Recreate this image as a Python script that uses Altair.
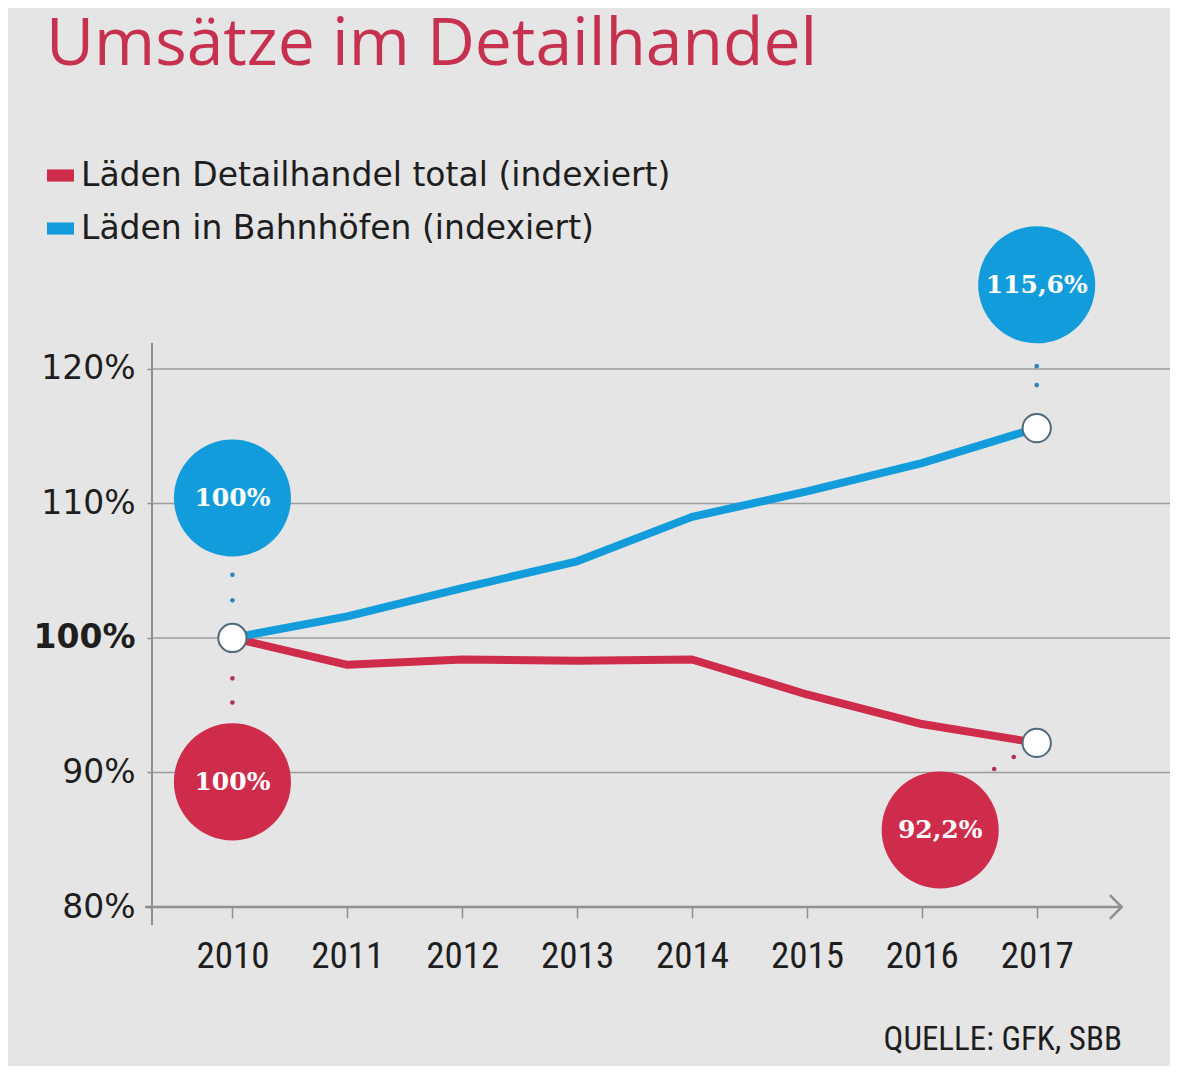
import altair as alt
import pandas as pd

# ---------------- data ----------------
title_text = "Umsätze im Detailhandel"
source_text = "QUELLE: GFK, SBB"

years = [2010, 2011, 2012, 2013, 2014, 2015, 2016, 2017]
retail_total = [100.0, 98.0, 98.4, 98.3, 98.4, 95.8, 93.6, 92.2]
station_shops = [100.0, 101.6, 103.7, 105.7, 109.0, 110.9, 113.0, 115.6]

series_names = ["Läden Detailhandel total (indexiert)", "Läden in Bahnhöfen (indexiert)"]
series_colors = ["#cf2b4b", "#139cdb"]

y_ticks = [80, 90, 100, 110, 120]
grid_values = [90, 100, 110, 120]

bubble_series = [series_names[1], series_names[0], series_names[1], series_names[0]]
bubble_x = [2010, 2010, 2017, 2016.16]
bubble_y = [110.4, 89.3, 126.25, 85.73]
bubble_labels = ["100%", "100%", "115,6%", "92,2%"]

dot_x = [2010, 2010, 2010, 2010, 2017, 2017, 2016.63, 2016.80]
dot_y = [104.7, 102.8, 97.0, 95.2, 120.2, 118.8, 90.26, 91.15]
dot_colors = ["#2f86bf", "#2f86bf", "#b03452", "#b03452",
              "#2f86bf", "#2f86bf", "#b03452", "#b03452"]

end_x = [2010, 2017, 2017]
end_y = [100.0, 115.6, 92.2]

# axis frame (in data units)
x_domain = [2009.3, 2018.16]
y_domain = [80, 122]
yaxis_line = {"x": [2009.3], "y": [78.66], "y2": [121.93]}
xaxis_line = {"x": [2009.24], "x2": [2017.74], "y": [80]}
arrow_pos = {"x": [2017.74], "y": [80]}

# ---------------- tables ----------------
df_lines = pd.DataFrame({
    "x": years * 2,
    "y": retail_total + station_shops,
    "series": [series_names[0]] * len(years) + [series_names[1]] * len(years),
})
df_grid = pd.DataFrame({"y": grid_values})
df_bub = pd.DataFrame({"x": bubble_x, "y": bubble_y, "series": bubble_series, "label": bubble_labels})
df_dots = pd.DataFrame({"x": dot_x, "y": dot_y, "c": dot_colors})
df_end = pd.DataFrame({"x": end_x, "y": end_y})

xs = alt.Scale(domain=x_domain, nice=False, zero=False)
ys = alt.Scale(domain=y_domain, nice=False, zero=False)
cs = alt.Scale(domain=series_names, range=series_colors)

GRAY = "#8f8f8f"
TXT = "#1e1e1e"
COND_FONT = "Liberation Sans Narrow, Roboto Condensed, Roboto"

y_axis = alt.Axis(
    values=y_ticks, labelExpr="datum.value + '%'", domain=False, grid=False,
    tickSize=5, tickColor=GRAY, tickWidth=1.5, labelFont="DejaVu Sans",
    labelFontSize=33, labelColor=TXT, labelPadding=12, title=None,
    labelFontWeight={"condition": {"test": "datum.value === 100", "value": "bold"}, "value": "normal"},
)
x_axis = alt.Axis(
    values=years, format="d", domain=False, grid=False, tickSize=11,
    tickColor=GRAY, tickWidth=1.5, labelFont=COND_FONT, labelFontSize=37,
    labelColor=TXT, labelPadding=20, title=None, labelOverlap=False, labelFlush=False,
)
legend = alt.Legend(
    title=None, orient="none", legendX=-108, legendY=-183, padding=0,
    symbolType="M-1,-0.45L1,-0.45L1,0.45L-1,0.45Z", symbolSize=729,
    symbolStrokeWidth=0, symbolOpacity=1, labelFont="DejaVu Sans", labelFontSize=33,
    labelColor=TXT, labelOffset=4, rowPadding=19, labelLimit=900,
)


def X(field="x:Q"):
    return alt.X(field, scale=xs, axis=x_axis)


def Y(field="y:Q"):
    return alt.Y(field, scale=ys, axis=y_axis)


def C():
    return alt.Color("series:N", scale=cs, legend=legend)


grid = alt.Chart(df_grid).mark_rule(color="#9d9d9d", strokeWidth=1.5).encode(y=Y())

yline = alt.Chart(pd.DataFrame(yaxis_line)).mark_rule(color=GRAY, strokeWidth=2).encode(
    x=X(), y=Y(), y2="y2:Q"
)
xline = alt.Chart(pd.DataFrame(xaxis_line)).mark_rule(color=GRAY, strokeWidth=2.5).encode(
    x=X(), x2="x2:Q", y=Y()
)
arrow = alt.Chart(pd.DataFrame(arrow_pos)).mark_point(
    shape="M-1,-1L0,0L-1,1", filled=False, color=GRAY, strokeWidth=2.5, size=560, opacity=1
).encode(x=X(), y=Y())

lines = alt.Chart(df_lines).mark_line(strokeWidth=8, interpolate="linear", strokeJoin="round").encode(
    x=X(), y=Y(), color=C(),
)

dots = alt.Chart(df_dots).mark_point(filled=True, size=22, opacity=1).encode(
    x=X(), y=Y(), fill=alt.Fill("c:N", scale=None),
)

bubbles = alt.Chart(df_bub).mark_circle(size=13700, opacity=1).encode(
    x=X(), y=Y(), color=C(),
)
bubble_text = alt.Chart(df_bub).mark_text(
    font="DejaVu Serif", fontWeight="bold", fontSize=25, color="white", baseline="middle"
).encode(x=X(), y=Y(), text="label:N")

ends = alt.Chart(df_end).mark_point(
    filled=True, fill="white", stroke="#50697a", strokeWidth=2, size=800, opacity=1, shape="circle"
).encode(x=X(), y=Y())

title = alt.Chart(pd.DataFrame({"t": [title_text]})).mark_text(
    align="left", baseline="alphabetic", font="Open Sans", fontSize=66, color="#c6314f"
).encode(x=alt.value(-106), y=alt.value(-277), text="t:N")

source = alt.Chart(pd.DataFrame({"t": [source_text]})).mark_text(
    align="right", baseline="alphabetic", font=COND_FONT, fontSize=33, color=TXT
).encode(x=alt.value(970), y=alt.value(708), text="t:N")

chart = alt.layer(
    grid, yline, xline, arrow, lines, dots, bubbles, bubble_text, ends, title, source
).properties(
    width=1018, height=565,
    autosize=alt.AutoSizeParams(type="none"),
    padding={"left": 144, "top": 334, "right": 0, "bottom": 159},
    background="#e5e5e5",
).configure_view(stroke=None)

chart.save("out.html", embed_options={"renderer": "svg", "actions": False})
